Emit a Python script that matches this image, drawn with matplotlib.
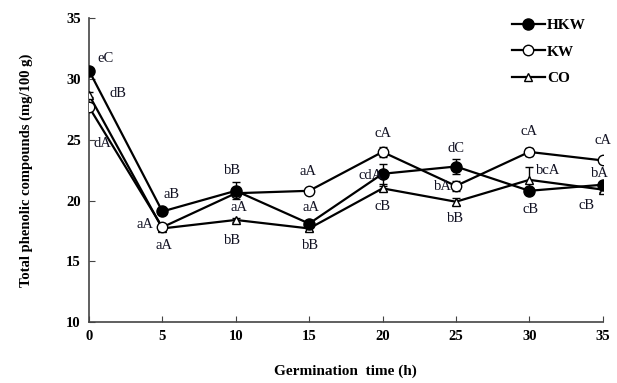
import matplotlib
matplotlib.use("Agg")
import matplotlib.pyplot as plt
from matplotlib.lines import Line2D

hours = [0, 5, 10, 15, 20, 25, 30, 35]
hkw = [30.7, 19.1, 20.8, 18.1, 22.2, 22.8, 20.8, 21.3]
kw = [27.7, 17.8, 20.6, 20.8, 24.0, 21.2, 24.0, 23.3]
co = [28.7, 17.7, 18.4, 17.7, 21.0, 19.9, 21.7, 20.9]
hkw_err = [0.2, 0.2, 0.7, 0.2, 0.8, 0.6, 0.2, 0.2]
kw_err = [0.2, 0.2, 0.2, 0.2, 0.4, 0.4, 0.3, 0.2]
co_err = [0.2, 0.2, 0.2, 0.2, 0.2, 0.3, 1.1, 0.2]

letters = ["eC", "dB", "dA", "aB", "aA", "aA", "bB", "aA", "bB", "aA", "aA", "bB",
           "cA", "cdA", "cB", "dC", "bA", "bB", "cA", "bcA", "cB", "cA", "bA", "cB"]
letter_pos = [(1.1, 31.7), (2.0, 28.8), (0.9, 24.7), (5.6, 20.5), (3.8, 18.0), (5.1, 16.3),
              (9.8, 22.5), (10.2, 19.4), (9.8, 16.7), (14.9, 22.4), (15.1, 19.45), (15.1, 16.3),
              (20.0, 25.5), (19.2, 22.1), (20.0, 19.5), (25.0, 24.3), (24.1, 21.15), (25.0, 18.55),
              (30.0, 25.7), (31.3, 22.5), (30.1, 19.3), (35.0, 24.9), (34.8, 22.25), (33.9, 19.6)]

plt.rcParams['font.family'] = ['Liberation Serif', 'DejaVu Serif']

fig = plt.figure(figsize=(6.17, 3.83), dpi=100)
ax = fig.add_axes([0.1442, 0.1593, 0.9768 - 0.1442, 0.9522 - 0.1593])

common = dict(color='black', lw=1.6, capsize=3, elinewidth=1.0, capthick=1.0)
styles = {
    'CO': dict(marker='^', ms=5.5, mfc='white', mec='black', mew=1.0),
    'KW': dict(marker='o', ms=7.5, mfc='white', mec='black', mew=1.0),
    'HKW': dict(marker='o', ms=8, mfc='black', mec='black', mew=1.0),
}
ax.errorbar(hours, co, yerr=co_err, zorder=3, **styles['CO'], **common)
ax.errorbar(hours, kw, yerr=kw_err, zorder=4, **styles['KW'], **common)
ax.errorbar(hours, hkw, yerr=hkw_err, zorder=5, **styles['HKW'], **common)

for t, (x, y) in zip(letters, letter_pos):
    ax.text(x, y, t, ha='center', va='center', fontsize=10.5, color='#111122', zorder=6)

ax.set_xlim(0, 35)
ax.set_ylim(10, 35)
ax.set_xticks(hours)
ax.set_yticks([10, 15, 20, 25, 30, 35])
ax.spines['top'].set_visible(False)
ax.spines['right'].set_visible(False)
for s in ['left', 'bottom']:
    ax.spines[s].set_color('#444444')
    ax.spines[s].set_linewidth(1.2)
ax.tick_params(direction='in', length=4, color='#444444', labelsize=10.5, pad=6)
for lab in ax.get_xticklabels() + ax.get_yticklabels():
    lab.set_fontweight('bold')

ax.set_xlabel('Germination  time (h)', fontsize=11, fontweight='bold', labelpad=15)
ax.set_ylabel('Total phenolic compounds (mg/100 g)', fontsize=10.5, fontweight='bold', labelpad=24)

names = ['HKW', 'KW', 'CO']
handles = [Line2D([0], [0], color='black', lw=1.6, **styles[n]) for n in names]
leg = ax.legend(handles, names, loc='upper left', bbox_to_anchor=(0.796, 1.045), frameon=False,
                prop={'weight': 'bold', 'size': 11}, handlelength=2.2, handletextpad=0.1,
                labelspacing=0.85)

fig.savefig('out.png', dpi=100)
